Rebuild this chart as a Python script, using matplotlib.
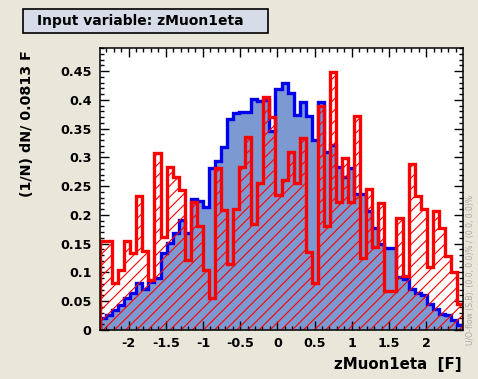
import numpy as np
import matplotlib
matplotlib.use("Agg")
import matplotlib.pyplot as plt
from matplotlib.patches import Rectangle
from matplotlib.ticker import MultipleLocator, FixedLocator, FixedFormatter

# ---------------- data ----------------
bin_width = 0.0813
x_min = -2.383
n_bins = 60

signal = [0.020, 0.026, 0.035, 0.043, 0.055, 0.064, 0.081, 0.072, 0.084, 0.090,
          0.133, 0.151, 0.168, 0.191, 0.168, 0.228, 0.225, 0.214, 0.281, 0.294,
          0.318, 0.367, 0.377, 0.379, 0.379, 0.402, 0.398, 0.400, 0.345, 0.418,
          0.430, 0.411, 0.373, 0.397, 0.371, 0.330, 0.397, 0.310, 0.321, 0.284,
          0.266, 0.281, 0.237, 0.237, 0.206, 0.178, 0.150, 0.143, 0.142, 0.092,
          0.088, 0.072, 0.065, 0.060, 0.045, 0.037, 0.028, 0.026, 0.018, 0.008]

background = [0.155, 0.155, 0.081, 0.104, 0.155, 0.133, 0.233, 0.138, 0.087, 0.307,
              0.162, 0.284, 0.265, 0.243, 0.122, 0.223, 0.180, 0.104, 0.055, 0.281,
              0.208, 0.115, 0.211, 0.284, 0.336, 0.185, 0.255, 0.405, 0.370, 0.235,
              0.260, 0.310, 0.256, 0.333, 0.136, 0.081, 0.390, 0.180, 0.449, 0.223,
              0.298, 0.223, 0.371, 0.125, 0.245, 0.145, 0.220, 0.067, 0.068, 0.194,
              0.093, 0.288, 0.232, 0.210, 0.110, 0.206, 0.178, 0.129, 0.101, 0.046]

x_ticks = [-2, -1.5, -1, -0.5, 0, 0.5, 1, 1.5, 2]
x_tick_labels = ["-2", "-1.5", "-1", "-0.5", "0", "0.5", "1", "1.5", "2"]
y_ticks = [0, 0.05, 0.1, 0.15, 0.2, 0.25, 0.3, 0.35, 0.4, 0.45]
y_tick_labels = ["0", "0.05", "0.1", "0.15", "0.2", "0.25", "0.3", "0.35", "0.4", "0.45"]

title_text = "Input variable: zMuon1eta"
x_label = "zMuon1eta  [F]"
y_label = "(1/N) dN/ 0.0813 F"
overflow_text = "U/O-flow (S,B): (0.0, 0.0)% / (0.0, 0.0)%"

# ---------------- style ----------------
W, H = 478, 379
bg = "#e9e6da"
sig_fill = "#7d99d1"
sig_line = "#0000ee"
bkg_col = "#ff0000"
font = "DejaVu Sans"

plt.rcParams["hatch.linewidth"] = 0.8
plt.rcParams["font.family"] = [font]

fig = plt.figure(figsize=(W / 100, H / 100), dpi=100, facecolor=bg)
ax = fig.add_axes([100 / W, 49 / H, 363 / W, 282 / H])
ax.set_facecolor("white")

edges = x_min + bin_width * np.arange(n_bins + 1)
x_max = edges[-1]
sig = np.array(signal)
bkg = np.array(background)

def outline(vals):
    xs = np.repeat(edges, 2)
    ys = np.concatenate([[0], np.repeat(vals, 2), [0]])
    return xs, ys

# signal: filled + outline
ax.stairs(sig, edges, fill=True, color=sig_fill, linewidth=0, zorder=1)
sx, sy = outline(sig)
ax.plot(sx, sy, color=sig_line, lw=2.4, solid_joinstyle="miter", zorder=2)

# background: hatched + outline
ax.stairs(bkg, edges, fill=True, facecolor="none", edgecolor=bkg_col,
          hatch="///", linewidth=0, zorder=3)
bx, by = outline(bkg)
ax.plot(bx, by, color=bkg_col, lw=2.4, solid_joinstyle="miter", zorder=4)

ax.set_xlim(x_min, x_max)
ax.set_ylim(0, 0.49)

ax.xaxis.set_major_locator(FixedLocator(x_ticks))
ax.xaxis.set_major_formatter(FixedFormatter(x_tick_labels))
ax.xaxis.set_minor_locator(MultipleLocator(0.1))
ax.yaxis.set_major_locator(FixedLocator(y_ticks))
ax.yaxis.set_major_formatter(FixedFormatter(y_tick_labels))
ax.yaxis.set_minor_locator(MultipleLocator(0.01))

ax.tick_params(which="both", direction="in", top=True, right=True, width=1.0,
               colors="black")
ax.tick_params(which="major", length=6.5)
ax.tick_params(which="minor", length=3.2)
ax.tick_params(axis="y", which="major", pad=6)
ax.tick_params(axis="x", which="major", pad=5)
for lab in ax.get_xticklabels() + ax.get_yticklabels():
    lab.set_fontweight("bold")
    lab.set_fontsize(9.2)
for sp in ax.spines.values():
    sp.set_linewidth(1.1)
    sp.set_zorder(10)

# title box
fig.add_artist(Rectangle((23 / W, 1 - 33 / H), 245 / W, 24 / H,
                         transform=fig.transFigure, facecolor="#d6dde8",
                         edgecolor="black", linewidth=1.2))
fig.text(37 / W, 1 - 21 / H, title_text, fontsize=10, fontweight="bold",
         ha="left", va="center", color="black")

# axis labels
fig.text(462 / W, 1 - 364 / H, x_label, fontsize=10.8, fontweight="bold",
         ha="right", va="center")
fig.text(27 / W, 1 - 50 / H, y_label, fontsize=10.3, fontweight="bold",
         rotation=90, ha="center", va="top")

# under/overflow note
fig.text(471 / W, 1 - 345 / H, overflow_text, fontsize=5.5, color="#a8a8a8",
         rotation=90, ha="center", va="bottom")

fig.savefig("out.png", dpi=100, facecolor=bg)
